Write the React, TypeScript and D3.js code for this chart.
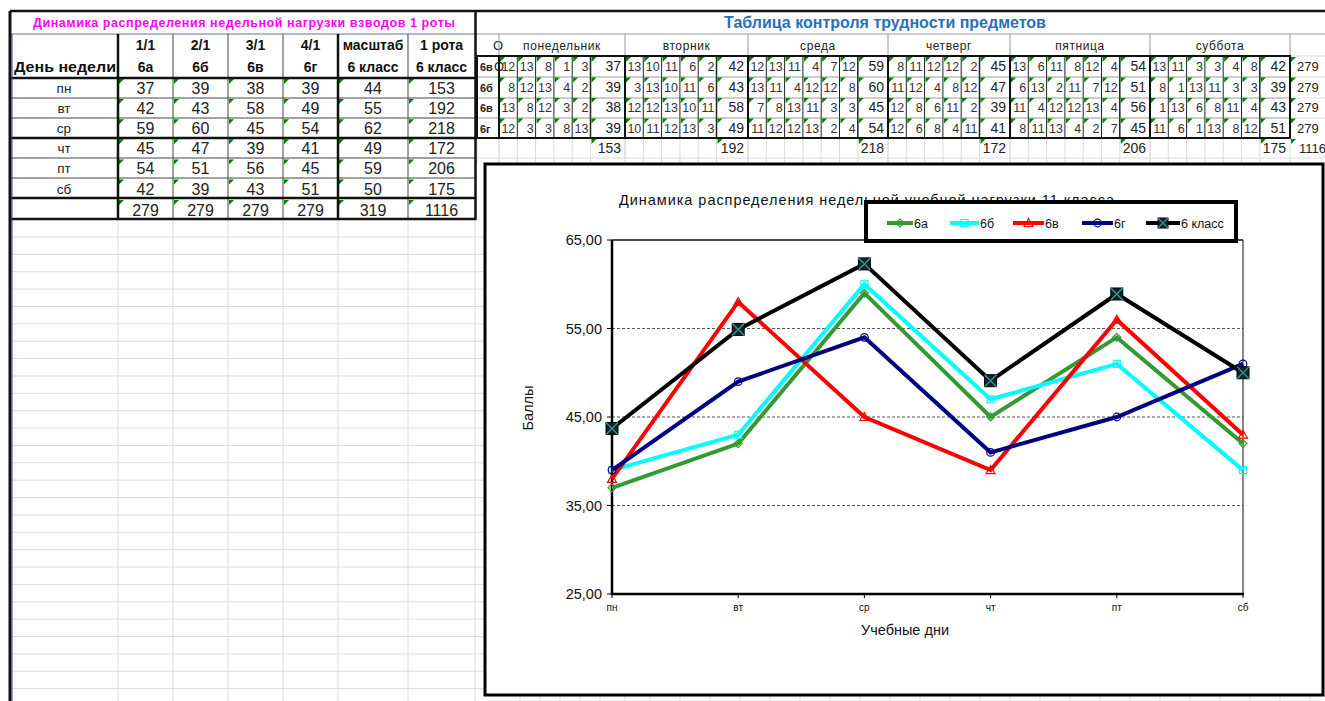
import React from "react";
import * as d3 from "d3";

// ---------- data ----------
const days = ["пн", "вт", "ср", "чт", "пт", "сб"];
const platoons = ["1/1", "2/1", "3/1", "4/1", "масштаб", "1 рота"];
const classes = ["6а", "6б", "6в", "6г", "6 класс", "6 класс"];
const col6a = [37, 42, 59, 45, 54, 42];
const col6b = [39, 43, 60, 47, 51, 39];
const col6v = [38, 58, 45, 39, 56, 43];
const col6g = [39, 49, 54, 41, 45, 51];
const colScale = [44, 55, 62, 49, 59, 50];
const colRota = [153, 192, 218, 172, 206, 175];
const leftTotals = [279, 279, 279, 279, 319, 1116];

const dayNames = ["понедельник", "вторник", "среда", "четверг", "пятница", "суббота"];
const rightRowLabels = ["6в", "6б", "6в", "6г"];
const r1 = [[12, 13, 8, 1, 3], [13, 10, 11, 6, 2], [12, 13, 11, 4, 7, 12], [8, 11, 12, 12, 2], [13, 6, 11, 8, 12, 4], [13, 11, 3, 3, 4, 8]];
const r2 = [[8, 12, 13, 4, 2], [3, 13, 10, 11, 6], [13, 11, 4, 12, 12, 8], [11, 12, 4, 8, 12], [6, 13, 2, 11, 7, 12], [8, 1, 13, 11, 3, 3]];
const r3 = [[13, 8, 12, 3, 2], [12, 12, 13, 10, 11], [7, 8, 13, 11, 3, 3], [12, 8, 6, 11, 2], [11, 4, 12, 12, 13, 4], [1, 13, 6, 8, 11, 4]];
const r4 = [[12, 3, 3, 8, 13], [10, 11, 12, 13, 3], [11, 12, 12, 13, 2, 4], [12, 6, 8, 4, 11], [8, 11, 13, 4, 2, 7], [11, 6, 1, 13, 8, 12]];
const rowTotals = [279, 279, 279, 279];
const dayTotals = [153, 192, 218, 172, 206, 175];
const grandTotal = 1116;

// chart series
const seriesNames = ["6а", "6б", "6в", "6г", "6 класс"];
const klass6 = [43.7, 54.9, 62.3, 49.1, 58.9, 50.0];
const yTicks = [25, 35, 45, 55, 65];

const FONT = "'Liberation Sans', Arial, sans-serif";

const tri = (x: number, y: number, key: string) => (
  <path key={key} d={`M${x},${y}h5l-5,5z`} fill="#008000" />
);

export default function App() {
  // ---------- left table geometry ----------
  const lx = [11, 118, 173, 228, 283, 338, 408, 475];
  const dataTop = 78;
  const rowH = 20.1;
  const leftCols = [col6a, col6b, col6v, col6g, colScale, colRota];

  // ---------- right table geometry ----------
  const secStart = [499, 625, 748, 888, 1010, 1150, 1290];
  const cellW = 18.3;
  const rRows = [r1, r2, r3, r4];
  const rTop = 56;
  const rRowH = 20.5;

  // ---------- chart ----------
  const x = d3.scalePoint<string>().domain(days).range([612, 1243]);
  const y = d3.scaleLinear().domain([25, 65]).range([594, 240]);
  const line = d3.line<number>().x((_, i) => x(days[i])!).y((d) => y(d));
  const seriesData = [col6a, col6b, col6v, col6g, klass6];
  const colors = ["#339933", "#00FFFF", "#FF0000", "#000080", "#000000"];

  const marker = (k: number, cx: number, cy: number, key: string, big = false) => {
    const c = colors[k];
    if (k === 0) return <path key={key} d={`M${cx},${cy - 4}l4,4l-4,4l-4,-4z`} fill="none" stroke={c} strokeWidth={1.2} />;
    if (k === 1) return <rect key={key} x={cx - 3.5} y={cy - 3.5} width={7} height={7} fill="none" stroke={c} strokeWidth={1.2} />;
    if (k === 2) return <path key={key} d={`M${cx},${cy - 4.5}l4.5,8h-9z`} fill="none" stroke={c} strokeWidth={1.2} />;
    if (k === 3) return <circle key={key} cx={cx} cy={cy} r={3.8} fill="none" stroke={c} strokeWidth={1.2} />;
    const s = big ? 6 : 5;
    return (
      <g key={key}>
        <rect x={cx - s} y={cy - s} width={2 * s} height={2 * s} fill="#0c2626" stroke="#000" strokeWidth={1} />
        <path d={`M${cx - s},${cy - s}L${cx + s},${cy + s}M${cx + s},${cy - s}L${cx - s},${cy + s}`} stroke="#3c8f8f" strokeWidth={1.4} />
      </g>
    );
  };

  // background grid lines
  const gridH: number[] = [];
  for (let yy = 237; yy < 701; yy += 17.37) gridH.push(yy);

  const legendItems = [
    { x0: 887, x1: 913 },
    { x0: 950, x1: 979 },
    { x0: 1013, x1: 1044 },
    { x0: 1082, x1: 1113 },
    { x0: 1146, x1: 1180 },
  ];

  return (
    <svg width={1325} height={701} style={{ position: "absolute", left: 0, top: 0, background: "#fff" }} fontFamily={FONT}>
      <rect x={0} y={0} width={1325} height={701} fill="#fff" />
      {/* spreadsheet grid */}
      <g stroke="#dcdcdc" strokeWidth={1}>
        {gridH.map((yy, i) => (
          <line key={"gh" + i} x1={11} x2={485} y1={yy} y2={yy} />
        ))}
        {lx.slice(1).map((xx, i) => (
          <line key={"gv" + i} x1={xx} x2={xx} y1={219} y2={701} />
        ))}
        <line x1={1290} x2={1325} y1={56} y2={56} />
        <line x1={1290} x2={1325} y1={77} y2={77} />
        <line x1={1290} x2={1325} y1={98} y2={98} />
        <line x1={1290} x2={1325} y1={118} y2={118} />
        <line x1={477} x2={1325} y1={158} y2={158} />
        {secStart.map((s, i) => {
          const out: JSX.Element[] = [];
          if (i < 6) {
            const n = r1[i].length;
            for (let c = 0; c <= n; c++) out.push(<line key={`tg${i}-${c}`} x1={s + c * cellW} x2={s + c * cellW} y1={138} y2={164} />);
          }
          out.push(<line key={`tgs${i}`} x1={s} x2={s} y1={138} y2={164} />);
          return out;
        })}
        <line x1={477} x2={477} y1={138} y2={164} />
        {[520, 540, 560, 580, 600, 625, 650, 680, 710, 740, 770, 800, 830, 860, 890, 920, 950, 980, 1010, 1040, 1070, 1100, 1130, 1160, 1190, 1220, 1250, 1280, 1310].map((xx, i) => (
          <line key={"bt" + i} x1={xx} x2={xx} y1={696} y2={701} />
        ))}
      </g>

      {/* top thick line */}
      <line x1={10} x2={1325} y1={11} y2={11} stroke="#111" strokeWidth={2.5} />
      <line x1={476} x2={1325} y1={34} y2={34} stroke="#9a9a9a" strokeWidth={1} />

      {/* ---------- left table ---------- */}
      <text x={244} y={27} fill="#ff00ff" fontWeight="bold" fontSize={12.5} textAnchor="middle" textLength={422} lengthAdjust="spacing">
        Динамика распределения недельной нагрузки взводов 1 роты
      </text>
      <line x1={11} x2={475} y1={34} y2={34} stroke="#6a6aa0" strokeWidth={1} />
      {platoons.map((p, i) => (
        <text key={"p" + i} x={(lx[i + 1] + lx[i + 2]) / 2} y={50} fontSize={14} fontWeight="bold" textAnchor="middle" fill="#111">
          {p}
        </text>
      ))}
      <text x={65} y={72} fontSize={15} fontWeight="bold" textAnchor="middle" fill="#111" textLength={102} lengthAdjust="spacingAndGlyphs">День недели</text>
      {classes.map((c, i) => (
        <text key={"c" + i} x={(lx[i + 1] + lx[i + 2]) / 2} y={72} fontSize={14} fontWeight="bold" textAnchor="middle" fill="#111">
          {c}
        </text>
      ))}
      {days.map((d, r) => (
        <text key={"d" + r} x={64} y={dataTop + r * rowH + 15} fontSize={13.5} textAnchor="middle" fill="#222">
          {d}
        </text>
      ))}
      {leftCols.map((col, c) =>
        col.map((v, r) => (
          <g key={`lc${c}-${r}`}>
            {tri(lx[c + 1] + 1, dataTop + r * rowH + 1, "t")}
            <text x={(lx[c + 1] + lx[c + 2]) / 2} y={dataTop + r * rowH + 16} fontSize={16} textAnchor="middle" fill="#222">
              {v}
            </text>
          </g>
        ))
      )}
      {leftTotals.map((v, c) => (
        <g key={"lt" + c}>
          {tri(lx[c + 1] + 1, 200, "t")}
          <text x={(lx[c + 1] + lx[c + 2]) / 2} y={216} fontSize={16} textAnchor="middle" fill="#222">
            {v}
          </text>
        </g>
      ))}
      {/* left table lines */}
      <g stroke="#444" strokeWidth={1}>
        {[98, 118, 158, 178].map((yy) => (
          <line key={"lh" + yy} x1={11} x2={475} y1={yy} y2={yy} />
        ))}
        {[173, 228, 283, 408].map((xx) => (
          <line key={"lv" + xx} x1={xx} x2={xx} y1={34} y2={219} />
        ))}
      </g>
      <g stroke="#111" strokeWidth={2.5}>
        {[78, 138, 198, 219].map((yy) => (
          <line key={"lH" + yy} x1={11} x2={476} y1={yy} y2={yy} />
        ))}
        {[118, 338].map((xx) => (
          <line key={"lV" + xx} x1={xx} x2={xx} y1={34} y2={219} />
        ))}
        <line x1={475.5} x2={475.5} y1={11} y2={220} />
        <line x1={10} x2={10} y1={11} y2={701} strokeWidth={3} />
      </g>
      <line x1={12} x2={12} y1={34} y2={701} stroke="#3a3aa0" strokeWidth={1} />

      {/* ---------- right table ---------- */}
      <text x={885} y={28} fill="#2a6fba" fontWeight="bold" fontSize={16} textAnchor="middle">
        Таблица контроля трудности предметов
      </text>
      <text x={498} y={50} fontSize={13} textAnchor="middle" fill="#222">О</text>
      <text x={499} y={71} fontSize={13} textAnchor="middle" fill="#222">О</text>
      {dayNames.map((d, i) => (
        <text key={"dn" + i} x={(secStart[i] + secStart[i + 1]) / 2} y={50} fontSize={12} textAnchor="middle" fill="#222" letterSpacing={0.6}>
          {d}
        </text>
      ))}
      <g stroke="#9a9a9a" strokeWidth={1}>
        {secStart.map((s) => (
          <line key={"hs" + s} x1={s} x2={s} y1={34} y2={56} />
        ))}
        <line x1={477} x2={1290} y1={56} y2={56} />
        {[77, 98, 118].map((yy) => (
          <line key={"rh" + yy} x1={477} x2={1290} y1={yy} y2={yy} />
        ))}
      </g>
      {rRows.map((row, r) => (
        <g key={"rr" + r}>
          <text x={480} y={rTop + r * rRowH + 15} fontSize={11} fontWeight="bold" fill="#222">
            {rightRowLabels[r]}
          </text>
          {row.map((cells, s) => {
            const sx = secStart[s];
            const ex = secStart[s + 1];
            const sumX = sx + cells.length * cellW;
            return (
              <g key={`rs${r}-${s}`}>
                {cells.map((v, c) => (
                  <g key={"cc" + c}>
                    {tri(sx + c * cellW + 1, rTop + r * rRowH + 1, "t")}
                    <text x={sx + (c + 1) * cellW - 2} y={rTop + r * rRowH + 15} fontSize={12.5} textAnchor="end" fill="#333">
                      {v}
                    </text>
                    <line x1={sx + c * cellW} x2={sx + c * cellW} y1={rTop + r * rRowH} y2={rTop + (r + 1) * rRowH} stroke="#222" strokeWidth={1} />
                  </g>
                ))}
                <line x1={sumX} x2={sumX} y1={rTop + r * rRowH} y2={rTop + (r + 1) * rRowH} stroke="#222" strokeWidth={1.5} />
                {tri(sumX + 1, rTop + r * rRowH + 1, "ts")}
                <text x={ex - 4} y={rTop + r * rRowH + 15} fontSize={14} textAnchor="end" fill="#222">
                  {d3.sum(cells)}
                </text>
              </g>
            );
          })}
          {tri(1291, rTop + r * rRowH + 1, "tt")}
          <text x={1297} y={rTop + r * rRowH + 15} fontSize={13} fill="#222">
            {rowTotals[r]}
          </text>
        </g>
      ))}
      <g stroke="#111" strokeWidth={2}>
        <rect x={477} y={56} width={813} height={82} fill="none" />
        {secStart.map((s) => (
          <line key={"rs" + s} x1={s} x2={s} y1={56} y2={138} />
        ))}
      </g>
      {dayTotals.map((v, i) => {
        const sumX = secStart[i] + r1[i].length * cellW;
        return (
          <g key={"dt" + i}>
            {tri(sumX + 1, 139, "t")}
            <text x={secStart[i + 1] - 4} y={153} fontSize={14} textAnchor="end" fill="#222">
              {v}
            </text>
          </g>
        );
      })}
      {tri(1291, 139, "gt")}
      <text x={1299} y={153} fontSize={13} fill="#222">{grandTotal}</text>

      {/* ---------- chart ---------- */}
      <rect x={485} y={164} width={838} height={531} fill="#fff" stroke="#000" strokeWidth={3} />
      <text x={619} y={205} fontSize={14.5} fill="#111" textLength={495} lengthAdjust="spacing">
        Динамика  распределения  недельной  учебной  нагрузки  11 класса
      </text>
      {/* gridlines */}
      {yTicks.slice(1, 4).map((t) => (
        <line key={"yg" + t} x1={612} x2={1243} y1={y(t)} y2={y(t)} stroke="#555" strokeWidth={1} strokeDasharray="3,2" />
      ))}
      <line x1={612} x2={1243} y1={y(65)} y2={y(65)} stroke="#111" strokeWidth={1.5} />
      <line x1={1243} x2={1243} y1={y(65)} y2={y(25)} stroke="#111" strokeWidth={1} />
      {yTicks.map((t) => (
        <g key={"yt" + t}>
          <line x1={607} x2={612} y1={y(t)} y2={y(t)} stroke="#000" strokeWidth={1} />
          <text x={602} y={y(t) + 5} fontSize={14.5} textAnchor="end" fill="#111">
            {d3.format(".2f")(t).replace(".", ",")}
          </text>
        </g>
      ))}
      {days.map((d) => (
        <g key={"xt" + d}>
          <line x1={x(d)!} x2={x(d)!} y1={594} y2={598} stroke="#000" />
          <text x={x(d)!} y={611} fontSize={10} textAnchor="middle" fill="#111">
            {d}
          </text>
        </g>
      ))}
      <line x1={612} x2={612} y1={240} y2={595} stroke="#000" strokeWidth={2.5} />
      <line x1={611} x2={1244} y1={594} y2={594} stroke="#000" strokeWidth={2.5} />
      <text x={905} y={635} fontSize={14.5} textAnchor="middle" fill="#111">Учебные дни</text>
      <text transform="translate(533,408) rotate(-90)" fontSize={14.5} textAnchor="middle" fill="#111">Баллы</text>

      {seriesData.map((s, k) => (
        <g key={"s" + k}>
          <path d={line(s)!} fill="none" stroke={colors[k]} strokeWidth={4} strokeLinejoin="miter" />
          {s.map((v, i) => marker(k, x(days[i])!, y(v), "m" + i, true))}
        </g>
      ))}

      {/* legend */}
      <rect x={866} y={202} width={370} height={39} fill="#fff" stroke="#000" strokeWidth={4} />
      {seriesNames.map((n, k) => {
        const it = legendItems[k];
        const cy = 223;
        return (
          <g key={"lg" + k}>
            <line x1={it.x0} x2={it.x1} y1={cy} y2={cy} stroke={colors[k]} strokeWidth={4} />
            {marker(k, (it.x0 + it.x1) / 2, cy, "lm", false)}
            <text x={it.x1 + 1} y={cy + 5} fontSize={12.5} fill="#111">
              {n}
            </text>
          </g>
        );
      })}
    </svg>
  );
}
